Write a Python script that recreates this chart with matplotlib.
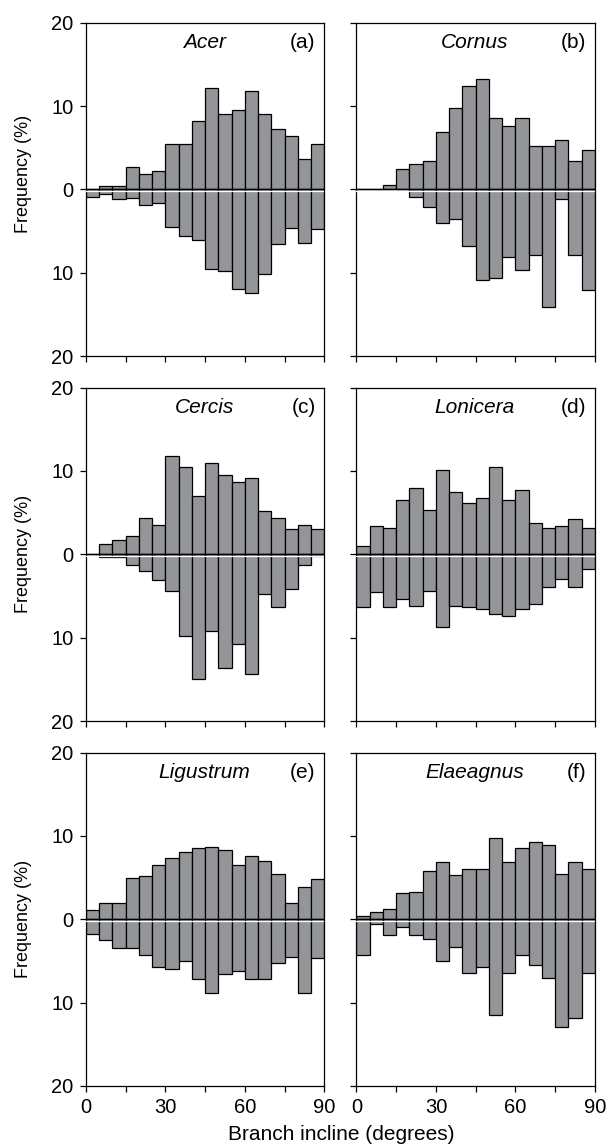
import numpy as np
import matplotlib
matplotlib.use("Agg")
import matplotlib.pyplot as plt
from matplotlib.ticker import MultipleLocator

plt.rcParams['font.family'] = ['Liberation Sans', 'DejaVu Sans']

# branch incline bins (degrees), 5 degree classes
bin_left = list(range(0, 90, 5))

species = ["Acer", "Cornus", "Cercis", "Lonicera", "Ligustrum", "Elaeagnus"]
letters = ["(a)", "(b)", "(c)", "(d)", "(e)", "(f)"]

# frequency (%) drawn above the zero line
acer_up = [0, 0.45, 0.45, 2.7, 1.85, 2.25, 5.45, 5.45, 8.15, 12.2, 9.1, 9.5, 11.8, 9.1, 7.3, 6.4, 3.6, 5.45]
cornus_up = [0, 0, 0.5, 2.5, 3.05, 3.45, 6.9, 9.75, 12.4, 13.2, 8.55, 7.6, 8.55, 5.15, 5.15, 5.9, 3.45, 4.75]
cercis_up = [0, 1.3, 1.7, 2.15, 4.4, 3.5, 11.8, 10.5, 7.0, 10.9, 9.55, 8.7, 9.2, 5.2, 4.4, 3.05, 3.5, 3.05]
lonicera_up = [0.95, 3.35, 3.15, 6.5, 7.95, 5.3, 10.1, 7.5, 6.1, 6.75, 10.5, 6.5, 7.7, 3.8, 3.15, 3.4, 4.2, 3.15]
ligustrum_up = [1.1, 2.0, 2.0, 5.0, 5.25, 6.5, 7.4, 8.1, 8.5, 8.7, 8.3, 6.5, 7.65, 7.0, 5.45, 2.0, 3.9, 4.8]
elaeagnus_up = [0.45, 0.85, 1.25, 3.1, 3.25, 5.85, 6.85, 5.3, 6.05, 6.05, 9.8, 6.85, 8.5, 9.3, 8.95, 5.45, 6.85, 6.05]

# frequency (%) drawn below the zero line
acer_down = [0.95, 0.5, 1.2, 1.05, 1.9, 1.6, 4.5, 5.6, 6.1, 9.5, 9.8, 11.9, 12.4, 10.1, 6.6, 4.6, 6.4, 4.8]
cornus_down = [0, 0, 0, 0, 0.9, 2.1, 4.05, 3.5, 6.8, 10.9, 10.6, 8.15, 9.7, 7.9, 14.1, 1.15, 7.9, 12.1]
cercis_down = [0, 0.3, 0.3, 1.3, 1.95, 3.1, 4.4, 9.8, 14.9, 9.15, 13.6, 10.8, 14.3, 4.7, 6.35, 4.1, 1.25, 0.2]
lonicera_down = [6.35, 4.5, 6.35, 5.3, 6.2, 4.4, 8.7, 6.2, 6.35, 6.6, 7.15, 7.4, 6.6, 5.9, 3.9, 2.9, 3.9, 1.7]
ligustrum_down = [1.75, 2.45, 3.5, 3.5, 4.3, 5.7, 6.0, 5.0, 7.2, 8.9, 6.55, 6.2, 7.2, 7.2, 5.2, 4.5, 8.9, 4.7]
elaeagnus_down = [4.3, 0.6, 1.9, 0.95, 1.9, 2.35, 5.0, 3.3, 6.45, 5.7, 11.5, 6.45, 4.3, 5.45, 7.1, 12.9, 11.85, 6.45]

ups = [acer_up, cornus_up, cercis_up, lonicera_up, ligustrum_up, elaeagnus_up]
downs = [acer_down, cornus_down, cercis_down, lonicera_down, ligustrum_down, elaeagnus_down]

bar_color = '#939598'

fig, axes = plt.subplots(3, 2, figsize=(6.08, 11.47), dpi=100)
plt.subplots_adjust(left=0.1414, right=0.9786, top=0.9802, bottom=0.0532,
                    wspace=0.134, hspace=0.0945)

for i, ax in enumerate(axes.flat):
    up = np.array(ups[i])
    down = np.array(downs[i])
    ax.bar(bin_left, up, width=5, align='edge', color=bar_color,
           edgecolor='black', linewidth=0.9, zorder=2)
    ax.bar(bin_left, -down, width=5, align='edge', color=bar_color,
           edgecolor='black', linewidth=0.9, zorder=2)
    ax.axhline(-0.2, color='white', lw=0.9, zorder=3)
    ax.axhline(0, color='black', lw=0.9, zorder=4)

    ax.set_xlim(0, 90)
    ax.set_ylim(-20, 20)
    ax.xaxis.set_major_locator(MultipleLocator(30))
    ax.xaxis.set_minor_locator(MultipleLocator(15))
    ax.set_yticks([-20, -10, 0, 10, 20])
    ax.tick_params(which='both', direction='out', length=4.5, width=0.9,
                   labelsize=14.5, pad=4.5)
    for s in ax.spines.values():
        s.set_linewidth(0.9)

    row, col = divmod(i, 2)
    if col == 0:
        ax.set_yticklabels(['20', '10', '0', '10', '20'])
        ax.set_ylabel("Frequency (%)", fontsize=13)
        ax.yaxis.set_label_coords(-0.227, 0.545 if row == 0 else 0.5)
    else:
        ax.set_yticklabels([])
    if row < 2:
        ax.set_xticklabels([])

    ax.text(0.495, 0.94, species[i], transform=ax.transAxes, fontsize=15,
            style='italic', ha='center', va='center')
    ax.text(0.963, 0.94, letters[i], transform=ax.transAxes, fontsize=15,
            ha='right', va='center')

fig.text(0.5605, 1 - 1135 / 1147, "Branch incline (degrees)", fontsize=15,
         ha='center', va='center')

plt.savefig("out.png", dpi=100)
